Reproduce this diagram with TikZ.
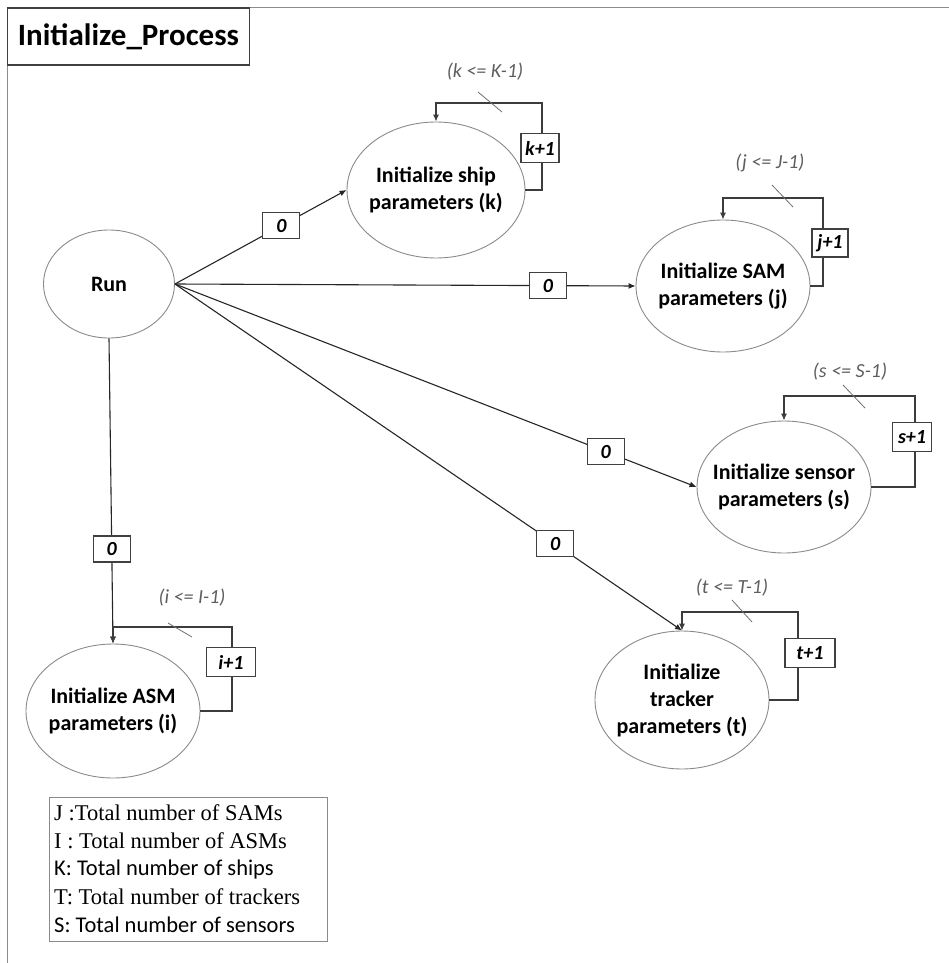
\documentclass[tikz,border=0pt]{standalone}
\usepackage{fontspec}
\setmainfont{Carlito}
\newfontfamily\legserif{Liberation Serif}
\usetikzlibrary{shapes.geometric,arrows.meta,calc}
\definecolor{ellcol}{HTML}{8A8A8A}
\definecolor{boxcol}{HTML}{404040}
\definecolor{conncol}{HTML}{262626}
\definecolor{loopcol}{HTML}{3C3C3C}
\definecolor{condcol}{HTML}{5E5E5E}
\definecolor{tickcol}{HTML}{6E6E6E}
\definecolor{framecol}{HTML}{8C8C8C}
\begin{document}
\begin{tikzpicture}[x=1pt,y=-1pt,
 ell/.style={ellipse, draw=ellcol, line width=0.9pt, inner sep=0pt},
 elltext/.style={align=center, inner sep=0pt, font=\fontsize{22}{27}\selectfont\bfseries, text=black},
 zero/.style={draw=boxcol, line width=1.1pt, fill=white, minimum width=37pt, minimum height=26pt,
   inner sep=0pt, font=\fontsize{20}{22}\selectfont\bfseries\itshape},
 incbox/.style={draw=boxcol, line width=1.1pt, fill=white, minimum height=29pt, inner sep=0pt,
   font=\fontsize{20}{22}\selectfont\bfseries\itshape},
 conn/.style={draw=conncol, line width=1.1pt, -{Latex[length=7pt,width=6pt]}},
 loopline/.style={draw=loopcol, line width=1.1pt, -{Latex[length=7pt,width=6pt]}},
 cond/.style={font=\fontsize{20}{22}\selectfont\itshape, text=condcol, inner sep=0pt},
 tickmark/.style={draw=tickcol, line width=0.8pt},
 legline/.style={anchor=west, inner sep=0pt, text=black}
]
\useasboundingbox (0,0) rectangle (949,963);
% outer frame
\draw[framecol, line width=1.5pt] (949,7.5) -- (7.5,7.5) -- (7.5,963);
% title
\node[draw=boxcol, line width=1.1pt, fill=white, minimum width=242pt, minimum height=57pt, inner sep=0pt,
  font=\fontsize{31}{33}\selectfont\bfseries] (title) at (128.5,36.5) {Initialize\_Process};

% ellipses
\node[ell, minimum width=131pt, minimum height=108pt,
  label={[elltext]center:Run}] (run) at (109,284) {};
\node[ell, minimum width=178pt, minimum height=136pt,
  label={[elltext]center:{Initialize ship\\parameters (k)}}] (ship) at (436,190) {};
\node[ell, minimum width=174pt, minimum height=132pt,
  label={[elltext]center:{Initialize SAM\\parameters (j)}}] (sam) at (723,286) {};
\node[ell, minimum width=174pt, minimum height=132pt,
  label={[elltext]center:{Initialize sensor\\parameters (s)}}] (sensor) at (784,487) {};
\node[ell, minimum width=174pt, minimum height=138pt,
  label={[elltext]center:{Initialize\\tracker\\parameters (t)}}] (tracker) at (682,700) {};
\node[ell, minimum width=174pt, minimum height=134pt,
  label={[elltext]center:{Initialize ASM\\parameters (i)}}] (asm) at (113,711) {};

% main connectors
\draw[conn] (run.east) -- node[zero, pos=0.62] (z1) {0} (ship.west);
\draw[conn] (run.east) -- node[zero, pos=0.81] (z2) {0} (sam.west);
\draw[conn] (run.east) -- node[zero, pos=0.826] (z3) {0} (sensor.west);
\draw[conn] (run.east) -- node[zero, pos=0.75] (z4) {0} (tracker.north);
\draw[conn] (run.south) -- node[zero, pos=0.69] (z5) {0} (asm.north);

% loops
\coordinate (shipR) at (542,103);
\draw[loopline] (ship.east) -| (shipR) -| (ship.north);
\node[incbox, minimum width=38pt] (shipinc) at (540,148) {k+1};
\node[cond] (shipc) at (485,72) {(k <= K-1)};
\draw[tickmark] (478,92) -- (502,112);

\coordinate (samR) at (823,198);
\draw[loopline] (sam.east) -| (samR) -| (sam.north);
\node[incbox, minimum width=36pt, minimum height=28pt] (saminc) at (830,243) {j+1};
\node[cond] (samc) at (770,163) {(j <= J-1)};
\draw[tickmark] (772,185) -- (793,207);

\coordinate (sensR) at (915,396);
\draw[loopline] (sensor.east) -| (sensR) -| (sensor.north);
\node[incbox, minimum width=39pt] (sensinc) at (912,437) {s+1};
\node[cond] (sensc) at (850,372) {(s <= S-1)};
\draw[tickmark] (843,385) -- (865,408);

\coordinate (trkR) at (798,612);
\draw[loopline] (tracker.east) -| (trkR) -| (tracker.north);
\node[incbox, minimum width=50pt] (trkinc) at (810,653) {t+1};
\node[cond] (trkc) at (732,588) {(t <= T-1)};
\draw[tickmark] (732,600) -- (752,622);

\coordinate (asmR) at (232,627);
\draw[loopline] (asm.east) -| (asmR) -| (asm.north);
\node[incbox, minimum width=49pt] (asminc) at (231,662) {i+1};
\node[cond] (asmc) at (192,598) {(i <= I-1)};
\draw[tickmark] (168,623) -- (192,637);

% legend
\node[draw=ellcol, line width=1pt, minimum width=278pt, minimum height=144pt, inner sep=0pt] (legend) at (188,869) {};
\node[legline, font=\legserif\fontsize{22.5}{24}\selectfont] (l1) at (54,813) {J :Total number of SAMs};
\node[legline, font=\legserif\fontsize{22.5}{24}\selectfont] (l2) at (54,841) {I : Total number of ASMs};
\node[legline, font=\fontsize{22.5}{24}\selectfont] (l3) at (54,869) {K: Total number of ships};
\node[legline, font=\legserif\fontsize{22.5}{24}\selectfont] (l4) at (54,897) {T: Total number of trackers};
\node[legline, font=\fontsize{22.5}{24}\selectfont] (l5) at (54,925) {S: Total number of sensors};
\end{tikzpicture}
\end{document}
